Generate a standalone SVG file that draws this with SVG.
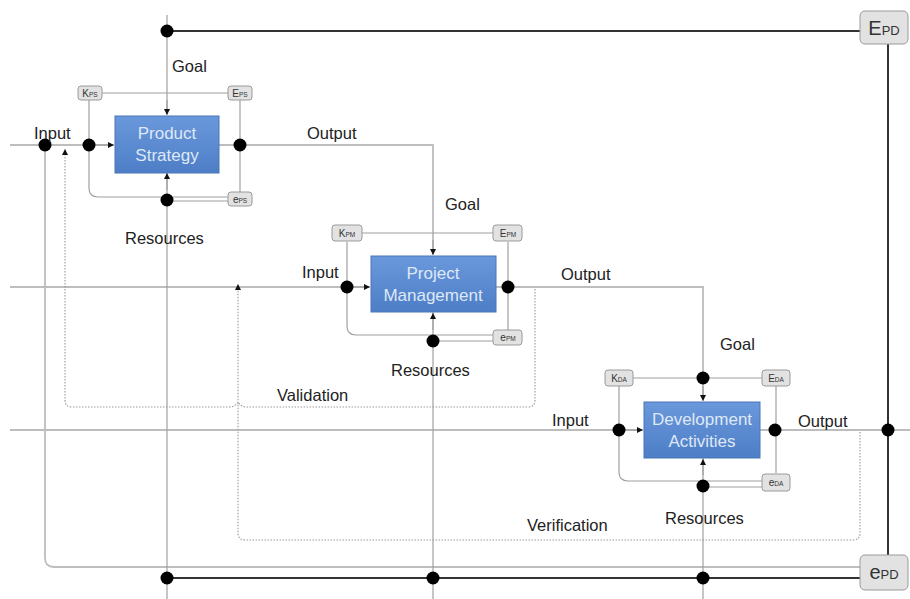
<svg xmlns="http://www.w3.org/2000/svg" width="910" height="599" viewBox="0 0 910 599">
<defs>
<linearGradient id="bg" x1="0" y1="0" x2="0" y2="1">
<stop offset="0" stop-color="#6a98dc"/>
<stop offset="1" stop-color="#4d7ec6"/>
</linearGradient>
<marker id="ah" viewBox="0 0 10 10" refX="10" refY="5" markerWidth="6" markerHeight="6" orient="auto" markerUnits="userSpaceOnUse">
<path d="M0,0 L10,5 L0,10 z" fill="#111"/>
</marker>
<style>
.t{font-family:"Liberation Sans",Arial,sans-serif;font-size:16.5px;fill:#222}
.bt{font-family:"Liberation Sans",Arial,sans-serif;font-size:17px;fill:#dfe8f6;text-anchor:middle}
.box{fill:url(#bg);stroke:#4a76b8;stroke-width:1}
.tag{fill:#e2e2e2;stroke:#9a9a9a;stroke-width:1}
.tt{font-family:"Liberation Sans",Arial,sans-serif;font-size:10px;fill:#333;text-anchor:middle}
.big{font-family:"Liberation Sans",Arial,sans-serif;font-size:20px;fill:#333;text-anchor:middle}
.g{fill:none;stroke:#bdbdbd;stroke-width:1.8}
.v{fill:none;stroke:#a0a0a0;stroke-width:1.2}
.k{fill:none;stroke:#333;stroke-width:2}
.d{fill:none;stroke:#999;stroke-width:1.1;stroke-dasharray:1.5,1.5}
.dot{fill:#000}
</style>
</defs>
<rect width="910" height="599" fill="#fff"/>
<g id="connectors">
<path class="g" d="M10,145 H113"/>
<path class="g" d="M219,145 H433 V254"/>
<path class="g" d="M10,287 H369"/>
<path class="g" d="M496,287 H703 V400"/>
<path class="g" d="M10,430 H642"/>
<path class="g" d="M760,430 H910"/>
<path class="g" d="M45,145 V558 Q45,567 54,567 H860"/>
<path class="v" d="M167,15 V113"/>
<path class="v" d="M167,172 V599"/>
<path class="v" d="M433,312 V599"/>
<path class="v" d="M703,458 V599"/>
<path class="k" d="M167,31 H860"/>
<path class="k" d="M888,44 V555"/>
<path class="k" d="M167,578 H860"/>
<path class="v" d="M102,93 H228"/>
<path class="v" d="M89,100 V188 Q89,197 98,197 H228"/>
<path class="v" d="M167,201 H228"/>
<path class="v" d="M240,100 V192"/>
<path class="v" d="M362,233 H493"/>
<path class="v" d="M347,242 V326 Q347,335 356,335 H493"/>
<path class="v" d="M433,341 H493"/>
<path class="v" d="M508,242 V330"/>
<path class="v" d="M633,378 H762"/>
<path class="v" d="M619,386 V472 Q619,481 628,481 H762"/>
<path class="v" d="M703,487 H762"/>
<path class="v" d="M776,386 V473"/>
<path class="v" d="M89,145 H114" marker-end="url(#ah)"/>
<path class="v" d="M167,100 V115" marker-end="url(#ah)"/>
<path class="v" d="M167,190 V173" marker-end="url(#ah)"/>
<path class="v" d="M347,287 H370" marker-end="url(#ah)"/>
<path class="v" d="M433,240 V255" marker-end="url(#ah)"/>
<path class="v" d="M433,330 V313" marker-end="url(#ah)"/>
<path class="v" d="M619,430 H643" marker-end="url(#ah)"/>
<path class="v" d="M703,386 V401" marker-end="url(#ah)"/>
<path class="v" d="M703,475 V459" marker-end="url(#ah)"/>
<path class="d" d="M535,289 V400 Q535,407 528,407 H247 Q241,407 238,402 Q235,407 229,407 H72 Q65,407 65,400 V149" marker-end="url(#ah)"/>
<path class="d" d="M860,432 V533 Q860,540 853,540 H245 Q238,540 238,533 V284" marker-end="url(#ah)"/>
<circle class="dot" cx="167" cy="31" r="6.5"/>
<circle class="dot" cx="45" cy="145" r="6.5"/>
<circle class="dot" cx="89" cy="145" r="6.5"/>
<circle class="dot" cx="240" cy="145" r="6.5"/>
<circle class="dot" cx="167" cy="200" r="6.5"/>
<circle class="dot" cx="347" cy="287" r="6.5"/>
<circle class="dot" cx="508" cy="287" r="6.5"/>
<circle class="dot" cx="433" cy="341" r="6.5"/>
<circle class="dot" cx="703" cy="378" r="6.5"/>
<circle class="dot" cx="619" cy="430" r="6.5"/>
<circle class="dot" cx="775" cy="430" r="6.5"/>
<circle class="dot" cx="888" cy="430" r="6.5"/>
<circle class="dot" cx="703" cy="486" r="6.5"/>
<circle class="dot" cx="167" cy="578" r="6.5"/>
<circle class="dot" cx="433" cy="578" r="6.5"/>
<circle class="dot" cx="703" cy="578" r="6.5"/>
</g>
<g id="labels">
<text class="t" x="172" y="72">Goal</text>
<text class="t" x="34" y="139">Input</text>
<text class="t" x="307" y="139">Output</text>
<text class="t" x="125" y="244">Resources</text>
<text class="t" x="445" y="210">Goal</text>
<text class="t" x="302" y="278">Input</text>
<text class="t" x="561" y="280">Output</text>
<text class="t" x="391" y="376">Resources</text>
<text class="t" x="720" y="350">Goal</text>
<text class="t" x="552" y="426">Input</text>
<text class="t" x="798" y="427">Output</text>
<text class="t" x="665" y="524">Resources</text>
<text class="t" x="277" y="401">Validation</text>
<text class="t" x="527" y="531">Verification</text>
</g>
<g id="node-ps">
<rect class="box" x="115" y="116" width="104" height="57"/>
<text class="bt" x="167" y="139">Product</text>
<text class="bt" x="167" y="161">Strategy</text>
</g>
<g id="node-pm">
<rect class="box" x="371" y="256" width="125" height="56"/>
<text class="bt" x="433" y="279">Project</text>
<text class="bt" x="433" y="301">Management</text>
</g>
<g id="node-da">
<rect class="box" x="644" y="402" width="116" height="56"/>
<text class="bt" x="702" y="425">Development</text>
<text class="bt" x="702" y="447">Activities</text>
</g>
<g id="tag-kps"><rect class="tag" x="78" y="86" width="24" height="14" rx="3"/><text class="tt" x="90" y="97">K<tspan font-size="6.5">PS</tspan></text></g>
<g id="tag-eps-top"><rect class="tag" x="228" y="86" width="24" height="14" rx="3"/><text class="tt" x="240" y="97">E<tspan font-size="6.5">PS</tspan></text></g>
<g id="tag-eps-bot"><rect class="tag" x="228" y="192" width="24" height="14" rx="3"/><text class="tt" x="240" y="203">e<tspan font-size="6.5">PS</tspan></text></g>
<g id="tag-kpm"><rect class="tag" x="332" y="225" width="30" height="16" rx="3"/><text class="tt" x="347" y="237">K<tspan font-size="6.5">PM</tspan></text></g>
<g id="tag-epm-top"><rect class="tag" x="493" y="225" width="29" height="16" rx="3"/><text class="tt" x="508" y="237">E<tspan font-size="6.5">PM</tspan></text></g>
<g id="tag-epm-bot"><rect class="tag" x="493" y="330" width="29" height="15" rx="3"/><text class="tt" x="508" y="341">e<tspan font-size="6.5">PM</tspan></text></g>
<g id="tag-kda"><rect class="tag" x="605" y="370" width="28" height="16" rx="3"/><text class="tt" x="619" y="382">K<tspan font-size="6.5">DA</tspan></text></g>
<g id="tag-eda-top"><rect class="tag" x="762" y="370" width="28" height="16" rx="3"/><text class="tt" x="776" y="382">E<tspan font-size="6.5">DA</tspan></text></g>
<g id="tag-eda-bot"><rect class="tag" x="762" y="474" width="28" height="17" rx="3"/><text class="tt" x="776" y="486">e<tspan font-size="6.5">DA</tspan></text></g>
<g id="node-epd-top">
<rect class="tag" x="860" y="11" width="48" height="33" rx="5"/>
<text class="big" x="884" y="35">E<tspan font-size="13">PD</tspan></text>
</g>
<g id="node-epd-bot">
<rect class="tag" x="860" y="555" width="48" height="35" rx="5"/>
<text class="big" x="884" y="579">e<tspan font-size="13">PD</tspan></text>
</g>
</svg>
